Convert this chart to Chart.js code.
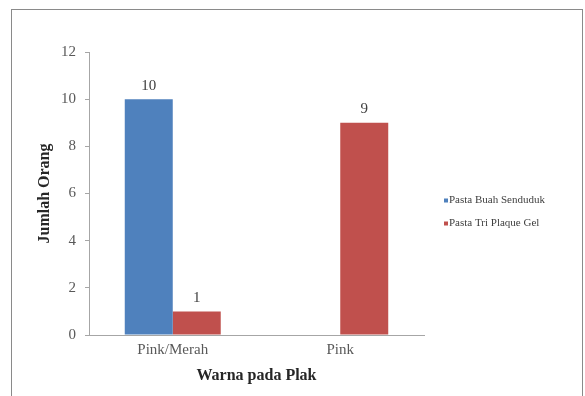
<!DOCTYPE html>
<html>
<head>
<meta charset="utf-8">
<script src="https://cdn.jsdelivr.net/npm/chart.js@4"></script>
<style>
  html, body { margin: 0; padding: 0; background: #fff; }
  #wrap { position: relative; width: 585px; height: 396px; overflow: hidden; }
  #frame { position: absolute; left: 11px; top: 9px; width: 572px; height: 400px; border: 1px solid #8a8a8a; box-sizing: border-box; }
  canvas { position: absolute; left: 0; top: 0; }
</style>
</head>
<body>
<div id="wrap">
  <div id="frame"></div>
  <canvas id="c" width="585" height="396"></canvas>
</div>
<script>
// Categories and series
const categories = ['Pink/Merah', 'Pink'];
const seriesNames = ['Pasta Buah Senduduk', 'Pasta Tri Plaque Gel'];
const buahSenduduk = [10, 0];
const triPlaqueGel = [1, 9];
const yTicks = [0, 2, 4, 6, 8, 10, 12];

const BLUE = '#4f81bd';
const RED = '#c0504d';
const SERIF = "'Liberation Serif', 'DejaVu Serif', serif";

// Value labels above each non-zero bar
const valueLabels = {
  id: 'valueLabels',
  afterDatasetsDraw(chart) {
    const ctx = chart.ctx;
    ctx.save();
    ctx.font = '15px ' + SERIF;
    ctx.fillStyle = '#404040';
    ctx.textAlign = 'center';
    ctx.textBaseline = 'bottom';
    chart.data.datasets.forEach((ds, i) => {
      const meta = chart.getDatasetMeta(i);
      meta.data.forEach((bar, j) => {
        const v = ds.data[j];
        if (!v) return;
        ctx.fillText(String(v), bar.x, bar.y - 6);
      });
    });
    ctx.restore();
  }
};

// Legend to the right of the plot
const sideLegend = {
  id: 'sideLegend',
  afterDraw(chart) {
    const ctx = chart.ctx;
    ctx.save();
    ctx.font = '11px ' + SERIF;
    ctx.textBaseline = 'middle';
    chart.data.datasets.forEach((ds, i) => {
      const y = 200.5 + i * 23;
      ctx.fillStyle = ds.backgroundColor;
      ctx.fillRect(444, y - 2, 4, 4);
      ctx.fillStyle = '#404040';
      ctx.fillText(ds.label, 449, y);
    });
    ctx.restore();
  }
};

new Chart(document.getElementById('c'), {
  type: 'bar',
  data: {
    labels: categories,
    datasets: [
      { label: seriesNames[0], data: buahSenduduk, backgroundColor: BLUE },
      { label: seriesNames[1], data: triPlaqueGel, backgroundColor: RED }
    ]
  },
  options: {
    responsive: false,
    animation: false,
    devicePixelRatio: 1,
    layout: { padding: { left: 26, top: 52, right: 161, bottom: 0 } },
    plugins: { legend: { display: false }, tooltip: { enabled: false } },
    datasets: { bar: { categoryPercentage: 0.573, barPercentage: 1 } },
    scales: {
      x: {
        grid: { display: false, tickLength: 0 },
        border: { display: true, color: '#a6a6a6' },
        ticks: { color: '#595959', font: { family: SERIF, size: 15 }, padding: 6 },
        title: { display: true, text: 'Warna pada Plak', color: '#262626',
                 font: { family: SERIF, size: 16, weight: 'bold' }, padding: { top: 4, bottom: 11 } },
        afterFit(scale) { scale.height = 61; }
      },
      y: {
        min: 0, max: 12,
        afterBuildTicks(scale) { scale.ticks = yTicks.map(v => ({ value: v })); },
        grid: { drawOnChartArea: false, drawTicks: true, tickLength: 4, color: '#a6a6a6' },
        border: { display: true, color: '#a6a6a6' },
        ticks: { color: '#595959', font: { family: SERIF, size: 15 }, padding: 9 },
        title: { display: true, text: 'Jumlah Orang', color: '#262626',
                 font: { family: SERIF, size: 16, weight: 'bold' }, padding: { top: 9, bottom: 4 } },
        afterFit(scale) { scale.width = 63; }
      }
    }
  },
  plugins: [valueLabels, sideLegend]
});
</script>
</body>
</html>
